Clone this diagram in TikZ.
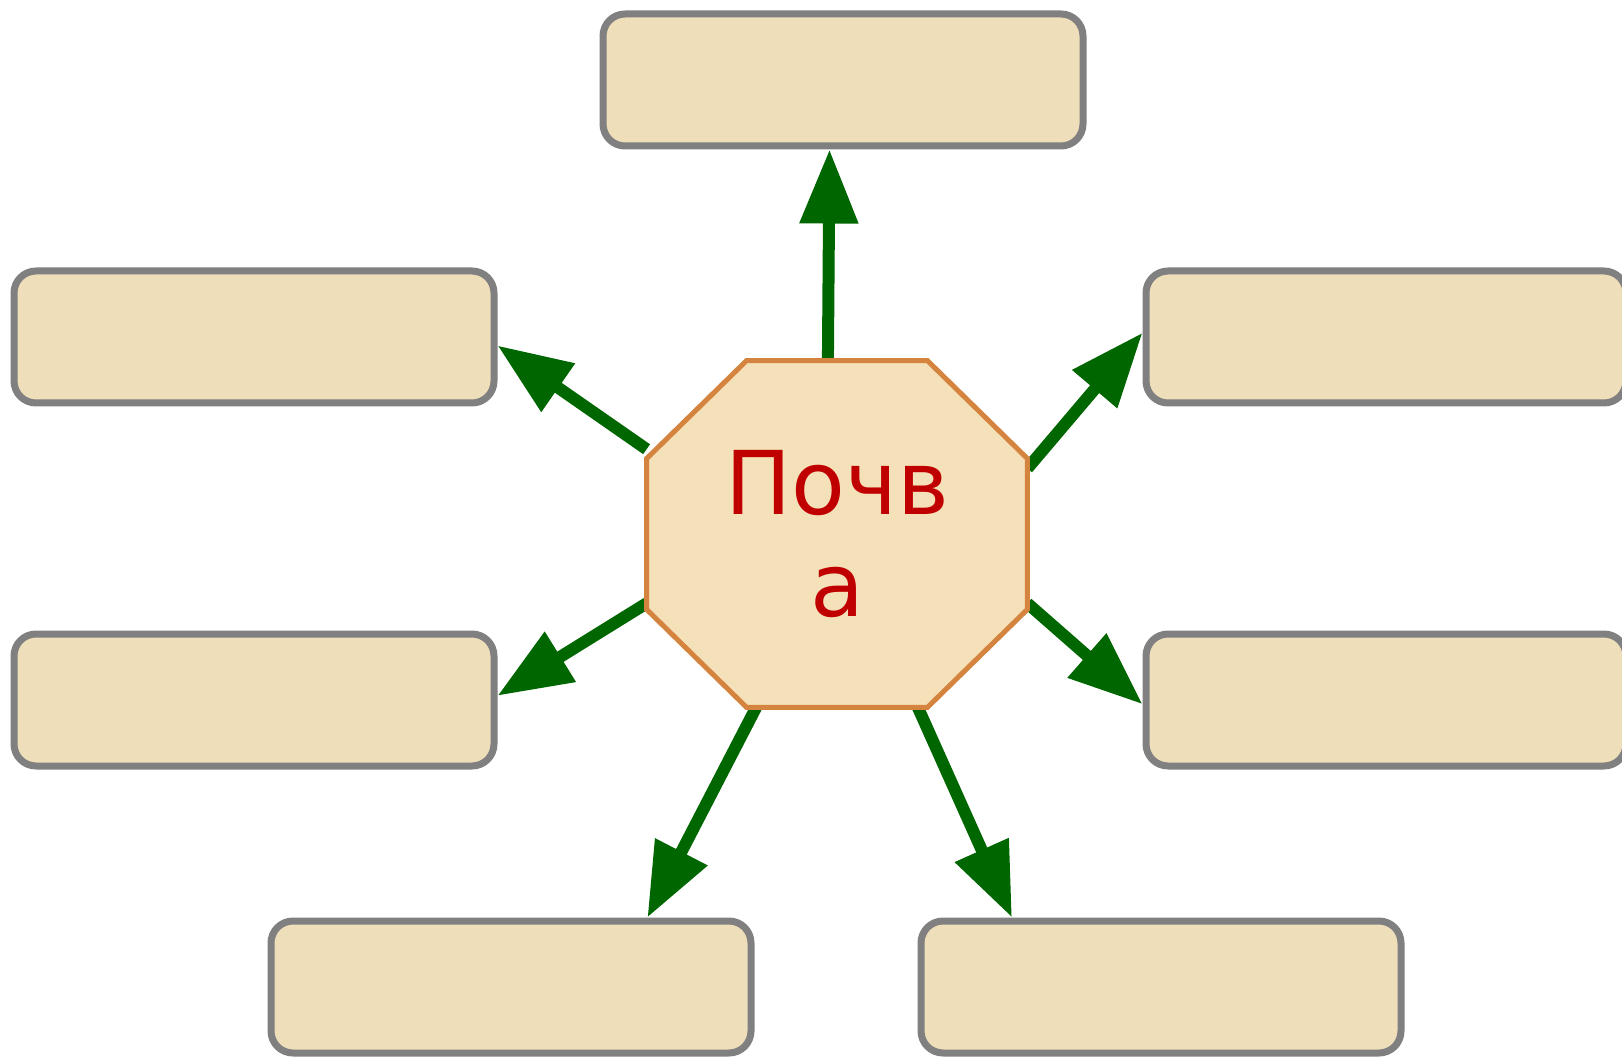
\documentclass[tikz,border=0pt]{standalone}
\usepackage{fontspec}
\setmainfont{DejaVu Sans}
\usetikzlibrary{arrows.meta}

\definecolor{soilred}{HTML}{C00000}
\definecolor{soilfill}{HTML}{F5E1B9}
\definecolor{soilline}{HTML}{D4843F}
\definecolor{paper}{HTML}{EEDEBA}
\definecolor{frame}{HTML}{808080}
\definecolor{leaf}{HTML}{006600}

\begin{document}
\begin{tikzpicture}[x=0.5pt, y=-0.5pt]

\tikzset{hub/.style = {shape=rectangle, minimum width=190pt, minimum height=173pt, inner sep=0pt}}
\tikzset{block/.style = {shape=rectangle, rounded corners=11pt, draw=frame, fill=paper,
  line width=3.5pt, minimum width=240pt, minimum height=66pt}}
\tikzset{edge/.style = {-{Triangle[length=37pt,width=28pt]}, draw=leaf, line width=6pt}}

\useasboundingbox (0,0) rectangle (1622,1058);

% boxes
\node[block] (T) at (843,80) {};
\node[block] (L1) at (254,337) {};
\node[block] (L2) at (254,700) {};
\node[block] (R1) at (1386,337) {};
\node[block] (R2) at (1386,700) {};
\node[block] (B1) at (511,987) {};
\node[block] (B2) at (1161,987) {};

% centre
\node[hub] (soil) at (837,534) {};

% arrows
\draw[edge] (soil.93) -- (T.-101);
\draw[edge] (soil.156) -- (L1.-2);
\draw[edge] (soil.200) -- (L2.1);
\draw[edge] (soil.19) -- (R1.179);
\draw[edge] (soil.-20) -- (R2.181);
\draw[edge] (soil.245) -- (B1.27);
\draw[edge] (soil.-65) -- (B2.155);

% octagon
\draw[draw=soilline, fill=soilfill, line width=2.5pt]
  ([xshift=50pt]soil.north west) -- ([xshift=-50pt]soil.north east)
  -- ([yshift=-49pt]soil.north east) -- ([yshift=49pt]soil.south east)
  -- ([xshift=-50pt]soil.south east) -- ([xshift=50pt]soil.south west)
  -- ([yshift=49pt]soil.south west) -- ([yshift=-49pt]soil.north west) -- cycle;
\node[text=soilred, align=center, font=\fontsize{44}{51}\selectfont]
  (word) at (soil) {Почв\\а};

\end{tikzpicture}
\end{document}
